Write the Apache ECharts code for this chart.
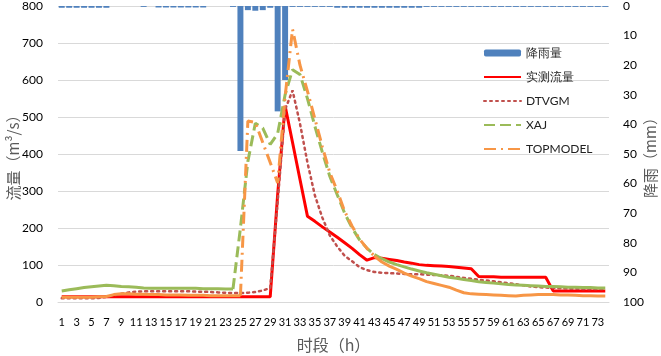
<!DOCTYPE html>
<html>
<head>
<meta charset="utf-8">
<script src="https://cdn.jsdelivr.net/npm/echarts@6/dist/echarts.min.js"></script>
<style>
  html, body { margin: 0; padding: 0; background: #fff; }
  #chart { width: 661px; height: 356px; }
</style>
</head>
<body>
<div id="chart"></div>
<script>
// 时段 1..74
const hours = [];
for (let i = 1; i <= 74; i++) hours.push(String(i));

// 降雨量 (mm)
const rain = [
  0.6, 0.6, 0.6, 0.6, 0.6, 0.6, 0.6, 0, 0, 0,
  0, 0.3, 0, 0.5, 0.5, 0.5, 0.5, 0.5, 0.5, 0.5,
  0, 0, 0, 0.3, 49, 1.4, 1.6, 1.4, 0.6, 35.6,
  25, 0.3, 0.3, 0.3, 0.3, 0.3, 0.3, 0.6, 0.6, 0.6,
  0.6, 0.6, 0.6, 0.6, 0.6, 0.6, 0.6, 0.6, 0.6, 0.3,
  0.3, 0.3, 0.3, 0.3, 0.3, 0.3, 0.3, 0.3, 0.3, 0.3,
  0.3, 0.3, 0.3, 0.3, 0.3, 0.3, 0.3, 0.3, 0.3, 0.3,
  0.3, 0.3, 0.3, 0.3
];

// 实测流量 (m3/s)
const observed = [
  14, 14, 14, 14, 14, 14, 14, 14, 14, 14,
  14, 14, 14, 14, 14, 14, 14, 14, 14, 14,
  14, 14, 14, 14, 14, 14, 14, 14, 14, 290,
  530, 431, 331, 232, 218, 203, 189, 175, 160, 145,
  128, 113, 120, 118, 115, 112, 108, 105, 101, 99,
  98, 97, 96, 94, 92, 90, 69, 68, 68, 67,
  67, 67, 67, 67, 67, 67, 30, 30, 30, 30,
  30, 30, 30, 30
];

const dtvgm = [
  10, 10, 10, 10, 10, 11, 14, 18, 22, 26,
  28, 29, 29, 29, 29, 29, 29, 29, 28, 28,
  27, 26, 25, 24, 24, 25, 27, 31, 38, 270,
  520, 572, 482, 377, 288, 228, 180, 150, 125, 110,
  94, 86, 81, 79, 78, 77, 76, 75, 75, 74,
  73, 72, 71, 68, 65, 63, 60, 58, 56, 53,
  51, 48, 45, 42, 40, 39, 38, 37, 36, 36,
  35, 35, 35, 35
];

const xaj = [
  30, 33, 36, 39, 41, 43, 45, 44, 42, 41,
  40, 38, 37, 37, 37, 37, 37, 37, 37, 36,
  36, 36, 35, 35, 200, 380, 483, 470, 426, 455,
  560, 628, 615, 550, 475, 405, 340, 290, 240, 200,
  168, 145, 128, 117, 108, 101, 95, 89, 84, 79,
  75, 71, 67, 64, 61, 58, 55, 53, 51, 49,
  47, 46, 45, 44, 43, 42, 42, 41, 40, 40,
  39, 39, 38, 38
];

const topmodel = [
  13, 13, 13, 13, 13, 14, 15, 20, 22, 22,
  21, 21, 20, 20, 19, 19, 19, 18, 18, 18,
  17, 17, 17, 17, 17, 489, 485, 431, 377, 322,
  555, 737, 640, 570, 495, 420, 350, 300, 245, 205,
  170, 145, 124, 108, 97, 88, 78, 70, 63, 55,
  50, 45, 40, 32, 25, 22, 21, 20, 19, 18,
  17, 16, 18, 19, 20, 20, 20, 19, 19, 18,
  17, 17, 16, 16
];

// Excel 里陡段才看得出虚线，平缓段看起来是实线
function part(arr, from, to, inside) {
  return arr.map((v, i) => ((i >= from && i <= to) === inside ? v : null));
}

const cjk = '"Noto Sans CJK SC", sans-serif';
const num = 'Lato, "Open Sans", sans-serif';
const noDot = { itemStyle: { opacity: 0 } };

const chart = echarts.init(document.getElementById('chart'));
chart.setOption({
  animation: false,
  grid: { left: 58, right: 52, top: 6, bottom: 54, outerBoundsMode: 'none', containLabel: false },
  legend: {
    data: [
      { name: '降雨量' },
      Object.assign({ name: '实测流量' }, noDot),
      Object.assign({ name: 'DTVGM' }, noDot),
      Object.assign({ name: 'XAJ' }, noDot),
      Object.assign({ name: 'TOPMODEL' }, noDot)
    ],
    orient: 'vertical',
    left: 478,
    top: 42,
    itemWidth: 37,
    itemHeight: 7,
    itemGap: 12,
    textStyle: { fontSize: 12, color: '#222', fontFamily: num }
  },
  xAxis: {
    type: 'category',
    data: hours,
    name: '时段（h）',
    nameLocation: 'middle',
    nameGap: 35,
    nameMoveOverlap: false,
    nameTextStyle: { fontSize: 16, color: '#595959', fontFamily: cjk },
    axisLine: { lineStyle: { color: '#d9d9d9' } },
    axisTick: { show: false },
    axisLabel: { interval: 1, fontSize: 11, color: '#000', margin: 15, fontFamily: num }
  },
  yAxis: [
    {
      type: 'value',
      min: 0,
      max: 800,
      interval: 100,
      name: '流量（m³/s）',
      nameLocation: 'middle',
      nameRotate: 90,
      nameGap: 37,
      nameMoveOverlap: false,
      nameTextStyle: { fontSize: 15, color: '#595959', fontFamily: cjk },
      axisLine: { show: false },
      axisTick: { show: false },
      axisLabel: { fontSize: 12, color: '#000', margin: 15, fontFamily: num },
      splitLine: { lineStyle: { color: '#d9d9d9' } }
    },
    {
      type: 'value',
      inverse: true,
      min: 0,
      max: 100,
      interval: 10,
      name: '降雨（mm）',
      nameLocation: 'middle',
      nameRotate: 90,
      nameGap: 34,
      nameMoveOverlap: false,
      nameTextStyle: { fontSize: 15, color: '#595959', fontFamily: cjk },
      axisLine: { show: false },
      axisTick: { show: false },
      axisLabel: { fontSize: 12, color: '#000', margin: 14, fontFamily: num },
      splitLine: { show: false }
    }
  ],
  series: [
    {
      name: '降雨量',
      type: 'bar',
      yAxisIndex: 1,
      data: rain,
      barCategoryGap: '20%',
      itemStyle: { color: '#4F81BD' }
    },
    {
      name: '实测流量',
      type: 'line',
      data: observed,
      symbol: 'none',
      lineStyle: { color: '#FF0000', width: 3 },
      itemStyle: { color: '#FF0000' }
    },
    {
      name: 'DTVGM',
      type: 'line',
      data: dtvgm,
      symbol: 'none',
      lineStyle: { color: '#C0504D', width: 2.5, type: [2, 4], cap: 'round' },
      itemStyle: { color: '#C0504D' }
    },
    {
      name: 'XAJ',
      type: 'line',
      data: part(xaj, 23, 42, true),
      symbol: 'none',
      lineStyle: { color: '#9BBB59', width: 3, type: [11, 5] },
      itemStyle: { color: '#9BBB59' }
    },
    {
      name: 'XAJ-flat',
      type: 'line',
      data: part(xaj, 24, 41, false),
      symbol: 'none',
      lineStyle: { color: '#9BBB59', width: 3 },
      itemStyle: { color: '#9BBB59' }
    },
    {
      name: 'TOPMODEL',
      type: 'line',
      data: part(topmodel, 24, 42, true),
      symbol: 'none',
      lineStyle: { color: '#F79646', width: 3, type: [12, 5, 2, 5] },
      itemStyle: { color: '#F79646' }
    },
    {
      name: 'TOPMODEL-flat',
      type: 'line',
      data: part(topmodel, 25, 41, false),
      symbol: 'none',
      lineStyle: { color: '#F79646', width: 3 },
      itemStyle: { color: '#F79646' }
    }
  ]
});
</script>
</body>
</html>
